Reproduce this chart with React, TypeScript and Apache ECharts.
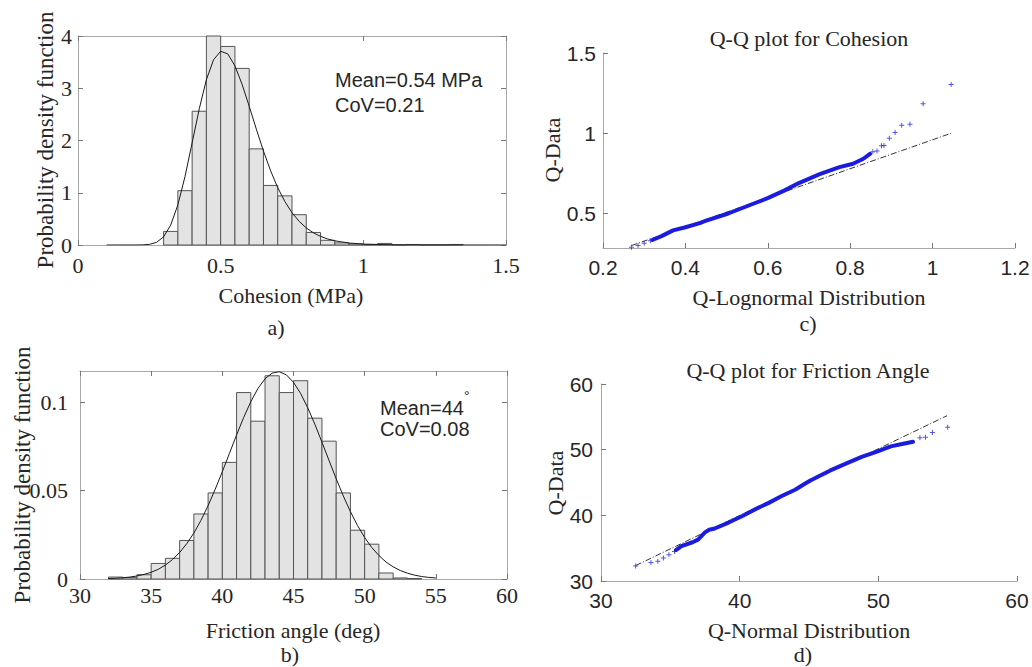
import React, { useEffect, useRef } from 'react';
import * as echarts from 'echarts';

// ---------- a) Cohesion histogram ----------
const cohesionBinStarts = [0.30, 0.35, 0.40, 0.45, 0.50, 0.55, 0.60, 0.65, 0.70, 0.75, 0.80, 0.85, 0.90, 0.95, 1.00, 1.05, 1.10, 1.15, 1.20, 1.25, 1.30];
const cohesionBinWidth = 0.05;
const cohesionDensity = [0.26, 1.04, 2.56, 4.0, 3.80, 3.38, 1.84, 1.14, 0.94, 0.58, 0.24, 0.09, 0.04, 0.02, 0.01, 0.03, 0, 0.01, 0, 0, 0.01];
const cohesionFitX = [0.1, 0.2, 0.225, 0.25, 0.275, 0.3, 0.325, 0.35, 0.375, 0.4, 0.425, 0.45, 0.475, 0.5, 0.525, 0.55, 0.575, 0.6, 0.625, 0.65, 0.675, 0.7, 0.725, 0.75, 0.775, 0.8, 0.825, 0.85, 0.875, 0.9, 0.95, 1.0, 1.1, 1.2, 1.35, 1.5];
const cohesionFitY = [0, 0.0002, 0.0018, 0.012, 0.0497, 0.156, 0.382, 0.768, 1.31, 1.955, 2.607, 3.164, 3.545, 3.708, 3.657, 3.429, 3.076, 2.656, 2.218, 1.798, 1.421, 1.098, 0.832, 0.619, 0.453, 0.327, 0.2335, 0.165, 0.1152, 0.08, 0.0375, 0.0172, 0.0034, 0.0006, 0.0001, 0];

// ---------- b) Friction angle histogram ----------
const frictionBinStarts = [32, 33, 34, 35, 36, 37, 38, 39, 40, 41, 42, 43, 44, 45, 46, 47, 48, 49, 50, 51, 52, 53];
const frictionBinWidth = 1;
const frictionDensity = [0.0011, 0.0008, 0.0024, 0.0088, 0.0117, 0.0218, 0.0368, 0.0487, 0.066, 0.1055, 0.0893, 0.115, 0.1055, 0.1122, 0.091, 0.078, 0.0487, 0.0276, 0.0197, 0.0034, 0.0006, 0.0003];
const frictionFitX = [32, 32.5, 33, 33.5, 34, 34.5, 35, 35.5, 36, 36.5, 37, 37.5, 38, 38.5, 39, 39.5, 40, 40.5, 41, 41.5, 42, 42.5, 43, 43.5, 44, 44.5, 45, 45.5, 46, 46.5, 47, 47.5, 48, 48.5, 49, 49.5, 50, 50.5, 51, 51.5, 52, 52.5, 53, 53.5, 54, 54.5, 55];
const frictionFitY = [0.0003, 0.0004, 0.0007, 0.0011, 0.0017, 0.0026, 0.0038, 0.0055, 0.0079, 0.011, 0.015, 0.02, 0.026, 0.0332, 0.0415, 0.0508, 0.0607, 0.0711, 0.0815, 0.0914, 0.1003, 0.1078, 0.1133, 0.1165, 0.1173, 0.1155, 0.1113, 0.105, 0.0969, 0.0876, 0.0774, 0.067, 0.0567, 0.047, 0.0381, 0.0302, 0.0235, 0.0178, 0.0133, 0.0096, 0.0069, 0.0048, 0.0033, 0.0022, 0.0014, 0.0009, 0.0006];

// ---------- c) Q-Q plot for Cohesion ----------
const cohesionQQBandX = [0.32, 0.342, 0.37, 0.398, 0.435, 0.447, 0.504, 0.56, 0.601, 0.641, 0.674, 0.726, 0.774, 0.807, 0.832, 0.848];
const cohesionQQBandY = [0.335, 0.359, 0.395, 0.413, 0.44, 0.452, 0.5, 0.556, 0.597, 0.644, 0.688, 0.745, 0.789, 0.81, 0.841, 0.872];
const cohesionQQTailX = [0.269, 0.285, 0.30, 0.315, 0.855, 0.865, 0.876, 0.882, 0.895, 0.909, 0.925, 0.945, 0.977, 1.045];
const cohesionQQTailY = [0.29, 0.30, 0.315, 0.33, 0.885, 0.89, 0.922, 0.924, 0.969, 1.004, 1.05, 1.056, 1.184, 1.304];
const cohesionRefX = [0.269, 1.045];
const cohesionRefY = [0.30, 1.0];

// ---------- d) Q-Q plot for Friction Angle ----------
const frictionQQBandX = [35.4, 35.8, 36.6, 37.0, 37.5, 37.8, 38.2, 39.2, 40.2, 41.1, 42.1, 43.0, 44.0, 44.7, 45.1, 46.5, 47.7, 48.8, 49.9, 50.9, 51.8, 52.5];
const frictionQQBandY = [34.7, 35.3, 35.9, 36.3, 37.4, 37.8, 38.0, 38.9, 39.9, 40.9, 41.9, 42.9, 43.9, 44.8, 45.3, 46.8, 47.9, 48.9, 49.7, 50.5, 50.9, 51.2];
const frictionQQTailX = [32.5, 33.6, 34.1, 34.5, 34.9, 35.3, 53.0, 53.4, 53.9, 55.0];
const frictionQQTailY = [32.3, 32.8, 33.0, 33.5, 34.0, 34.5, 51.8, 51.9, 52.6, 53.4];
const frictionRefX = [32.5, 54.95];
const frictionRefY = [32.35, 55.17];

const SERIF = '"Liberation Serif", "Times New Roman", serif';
const SANS = '"Liberation Sans", Arial, sans-serif';
const AXIS_GRAY = '#a8a8a8';
const TEXT = '#262626';
const BLUE = '#1c1ce0';

const zip = (xs: number[], ys: number[]) => xs.map((x, i) => [x, ys[i]]);

const histItem = (params: any, api: any) => {
  const x0 = api.value(0);
  const x1 = api.value(1);
  const h = api.value(2);
  const p0 = api.coord([x0, h]);
  const p1 = api.coord([x1, 0]);
  return {
    type: 'rect',
    shape: { x: p0[0], y: p0[1], width: p1[0] - p0[0], height: p1[1] - p0[1] },
    style: { fill: '#e3e3e3', stroke: '#555555', lineWidth: 1 },
  };
};

const plusSymbol = 'path://M4,0H6V4H10V6H6V10H4V6H0V4H4Z';

function boxAxis(gridIndex: number, min: number, max: number, ticks: number[], showLabel: boolean, position: string, font: string, margin: number) {
  return {
    type: 'value',
    gridIndex,
    min,
    max,
    position,
    axisLine: { show: true, onZero: false, lineStyle: { color: AXIS_GRAY, width: 1 } },
    axisTick: { show: true, inside: true, length: 5, customValues: ticks, lineStyle: { color: '#777' } },
    axisLabel: {
      show: showLabel,
      customValues: ticks,
      fontFamily: font,
      fontSize: font === SERIF ? 22 : 21,
      color: TEXT,
      margin,
    },
    splitLine: { show: false },
  };
}

export default function App() {
  const ref = useRef<HTMLDivElement>(null);

  useEffect(() => {
    if (!ref.current) return;
    const chart = echarts.init(ref.current, null, { renderer: 'svg' });

    const text = (t: string, x: number, y: number, opts: any = {}) => ({
      type: 'text',
      x,
      y,
      rotation: opts.rotation || 0,
      style: {
        text: t,
        fontFamily: opts.font || SERIF,
        fontSize: opts.size || 22,
        fill: TEXT,
        align: opts.align || 'center',
        verticalAlign: 'middle',
      },
    });

    const option: any = {
      animation: false,
      backgroundColor: '#ffffff',
      grid: [
        { left: 78, top: 36, width: 428, height: 209, containLabel: false, outerBoundsMode: 'none' },
        { left: 80, top: 371, width: 427, height: 208, containLabel: false, outerBoundsMode: 'none' },
        { left: 603, top: 53, width: 412, height: 195, containLabel: false, outerBoundsMode: 'none' },
        { left: 601, top: 384, width: 416, height: 197, containLabel: false, outerBoundsMode: 'none' },
      ],
      xAxis: [
        boxAxis(0, 0, 1.5, [0, 0.5, 1, 1.5], true, 'bottom', SERIF, 9),
        boxAxis(0, 0, 1.5, [0, 0.5, 1, 1.5], false, 'top', SERIF, 8),
        boxAxis(1, 30, 60, [30, 35, 40, 45, 50, 55, 60], true, 'bottom', SERIF, 5),
        boxAxis(1, 30, 60, [30, 35, 40, 45, 50, 55, 60], false, 'top', SERIF, 8),
        boxAxis(2, 0.2, 1.2, [0.2, 0.4, 0.6, 0.8, 1, 1.2], true, 'bottom', SANS, 9),
        boxAxis(3, 30, 60, [30, 40, 50, 60], true, 'bottom', SANS, 9),
      ],
      yAxis: [
        boxAxis(0, 0, 4, [0, 1, 2, 3, 4], true, 'left', SERIF, 6),
        boxAxis(0, 0, 4, [0, 1, 2, 3, 4], false, 'right', SERIF, 6),
        boxAxis(1, 0, 0.1177, [0, 0.05, 0.1], true, 'left', SERIF, 12),
        boxAxis(1, 0, 0.1177, [0, 0.05, 0.1], false, 'right', SERIF, 6),
        boxAxis(2, 0.285, 1.5, [0.5, 1, 1.5], true, 'left', SANS, 7),
        boxAxis(3, 30, 60, [30, 40, 50, 60], true, 'left', SANS, 8),
      ],
      series: [
        {
          type: 'custom',
          xAxisIndex: 0,
          yAxisIndex: 0,
          renderItem: histItem,
          encode: { x: [0, 1], y: 2 },
          data: cohesionBinStarts.map((s, i) => [s, s + cohesionBinWidth, cohesionDensity[i]]),
          z: 2,
        },
        {
          type: 'line',
          xAxisIndex: 0,
          yAxisIndex: 0,
          data: zip(cohesionFitX, cohesionFitY),
          showSymbol: false,
          smooth: false,
          lineStyle: { color: '#1a1a1a', width: 1 },
          z: 3,
        },
        {
          type: 'custom',
          xAxisIndex: 2,
          yAxisIndex: 2,
          renderItem: histItem,
          encode: { x: [0, 1], y: 2 },
          data: frictionBinStarts.map((s, i) => [s, s + frictionBinWidth, frictionDensity[i]]),
          z: 2,
        },
        {
          type: 'line',
          xAxisIndex: 2,
          yAxisIndex: 2,
          data: zip(frictionFitX, frictionFitY),
          showSymbol: false,
          smooth: false,
          lineStyle: { color: '#1a1a1a', width: 1 },
          z: 3,
        },
        // c) Q-Q cohesion
        {
          type: 'line',
          xAxisIndex: 4,
          yAxisIndex: 4,
          data: zip(cohesionRefX, cohesionRefY),
          showSymbol: false,
          lineStyle: { color: '#333', width: 1, type: [6, 2, 1, 2] },
          z: 2,
        },
        {
          type: 'line',
          xAxisIndex: 4,
          yAxisIndex: 4,
          data: zip(cohesionQQBandX, cohesionQQBandY),
          showSymbol: false,
          lineStyle: { color: BLUE, width: 4, cap: 'round', join: 'round' },
          z: 3,
        },
        {
          type: 'scatter',
          xAxisIndex: 4,
          yAxisIndex: 4,
          data: zip(cohesionQQTailX, cohesionQQTailY),
          symbol: plusSymbol,
          symbolSize: 5,
          itemStyle: { color: BLUE, opacity: 0.75 },
          z: 4,
        },
        // d) Q-Q friction
        {
          type: 'line',
          xAxisIndex: 5,
          yAxisIndex: 5,
          data: zip(frictionRefX, frictionRefY),
          showSymbol: false,
          lineStyle: { color: '#333', width: 1, type: [6, 2, 1, 2] },
          z: 2,
        },
        {
          type: 'line',
          xAxisIndex: 5,
          yAxisIndex: 5,
          data: zip(frictionQQBandX, frictionQQBandY),
          showSymbol: false,
          lineStyle: { color: BLUE, width: 4, cap: 'round', join: 'round' },
          z: 3,
        },
        {
          type: 'scatter',
          xAxisIndex: 5,
          yAxisIndex: 5,
          data: zip(frictionQQTailX, frictionQQTailY),
          symbol: plusSymbol,
          symbolSize: 5,
          itemStyle: { color: BLUE, opacity: 0.75 },
          z: 4,
        },
      ],
      graphic: [
        // a)
        text('Probability density function', 45, 140, { rotation: Math.PI / 2, size: 23 }),
        text('Cohesion (MPa)', 291, 295),
        text('a)', 276, 327),
        text('Mean=0.54 MPa', 335, 80, { font: SANS, size: 20, align: 'left' }),
        text('CoV=0.21', 335, 105, { font: SANS, size: 20, align: 'left' }),
        // b)
        text('Probability density function', 22, 475, { rotation: Math.PI / 2, size: 23 }),
        text('Friction angle (deg)', 293, 630),
        text('b)', 290, 654),
        text('Mean=44', 380, 408, { font: SANS, size: 20, align: 'left' }),
        text('°', 464, 396, { font: SANS, size: 14, align: 'left' }),
        text('CoV=0.08', 380, 429, { font: SANS, size: 20, align: 'left' }),
        // c)
        text('Q-Q plot for Cohesion', 809, 38),
        text('Q-Data', 552, 150, { rotation: Math.PI / 2 }),
        text('Q-Lognormal Distribution', 809, 297),
        text('c)', 808, 323),
        // d)
        text('Q-Q plot for Friction Angle', 808, 370),
        text('Q-Data', 555, 483, { rotation: Math.PI / 2 }),
        text('Q-Normal Distribution', 809, 630),
        text('d)', 803, 654),
      ],
    };

    chart.setOption(option);
    return () => chart.dispose();
  }, []);

  return (
    <div
      ref={ref}
      style={{ position: 'fixed', left: 0, top: 0, width: 1032, height: 667, background: '#fff' }}
    />
  );
}
